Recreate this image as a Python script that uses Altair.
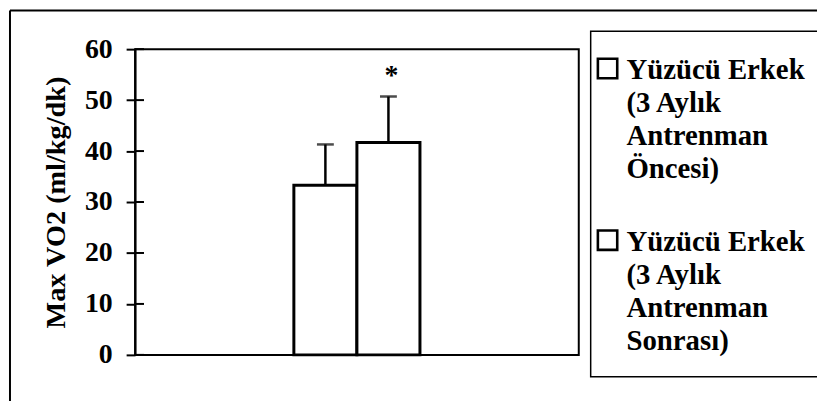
import altair as alt
import pandas as pd

# ---- data ----
series = [
    "Yüzücü Erkek|(3 Aylık|Antrenman|Öncesi)",
    "Yüzücü Erkek|(3 Aylık|Antrenman|Sonrası)",
]
means = [33.3, 41.7]
sds = [8.0, 9.0]
signif = ["", "*"]
y_ticks = [0, 10, 20, 30, 40, 50, 60]
legend_rows = [0, 1]

df = pd.DataFrame({
    "group": ["Max VO2", "Max VO2"],
    "series": series,
    "mean": means,
    "sd": sds,
    "mark": signif,
})
df["top"] = df["mean"] + df["sd"]
ticks_df = pd.DataFrame({"v": y_ticks})
frame_df = pd.DataFrame({"a": [0]})
legend_df = pd.DataFrame({"series": series, "row": legend_rows})

FONT = "Liberation Serif, Times New Roman, serif"

x_enc = alt.X("group:N", axis=None,
              scale=alt.Scale(paddingInner=0, paddingOuter=1))
xoff = alt.XOffset("series:N", sort=series,
                   scale=alt.Scale(paddingInner=0, paddingOuter=0.173))
y_scale = alt.Scale(domain=[0, 60], nice=False)

base = alt.Chart(df)

bars = base.mark_bar(stroke="black", strokeWidth=3).encode(
    x=x_enc,
    xOffset=xoff,
    y=alt.Y("mean:Q", scale=y_scale,
            axis=alt.Axis(values=y_ticks, title="Max VO2 (ml/kg/dk)", grid=False)),
    color=alt.Color("series:N", sort=series,
                    scale=alt.Scale(domain=series, range=["white", "white"]),
                    legend=None),
)

err = base.mark_rule(color="black", strokeWidth=2.5).encode(
    x=x_enc, xOffset=xoff,
    y=alt.Y("mean:Q", scale=y_scale), y2="top:Q",
)

caps = base.mark_tick(color="black", thickness=2.5, size=17, orient="horizontal").encode(
    x=x_enc, xOffset=xoff,
    y=alt.Y("top:Q", scale=y_scale),
)

star = base.mark_text(font=FONT, fontSize=28, fontWeight="bold", color="black",
                      baseline="middle", dy=-21, dx=3).encode(
    x=x_enc, xOffset=xoff,
    y=alt.Y("top:Q", scale=y_scale),
    text="mark:N",
)

inner_ticks = alt.Chart(ticks_df).mark_rule(color="black", strokeWidth=2).encode(
    y=alt.Y("v:Q", scale=y_scale), x=alt.value(0), x2=alt.value(9),
)

frame_left = alt.Chart(frame_df).mark_rule(color="black", strokeWidth=2).encode(
    x=alt.value(-126), y=alt.value(-39), y2=alt.value(400),
)
frame_top = alt.Chart(frame_df).mark_rule(color="black", strokeWidth=2).encode(
    y=alt.value(-39), x=alt.value(-126), x2=alt.value(700),
)

main = alt.layer(frame_left, frame_top, bars, err, caps, star, inner_ticks)

# ---- legend panel (drawn as marks) ----
leg_y = alt.Y("row:Q", scale=alt.Scale(domain=[0, 1], range=[19.5, 192.5]), axis=None)

leg_box = alt.Chart(frame_df).mark_rect(fill="white", stroke="black", strokeWidth=1.5).encode(
    x=alt.value(459), x2=alt.value(720), y=alt.value(-18), y2=alt.value(330),
)
leg_sym = alt.Chart(legend_df).mark_square(size=380, fill="white", stroke="black",
                                           strokeWidth=2.6, opacity=1).encode(
    x=alt.value(476), y=leg_y,
)
leg_txt = alt.Chart(legend_df).mark_text(
    font=FONT, fontSize=29, fontWeight="bold", color="black",
    align="left", baseline="alphabetic", lineBreak="|", lineHeight=33.3, dy=10.5,
).encode(
    x=alt.value(495), y=leg_y, text="series:N",
)
legend = alt.layer(leg_box, leg_sym, leg_txt)

chart = alt.layer(main, legend).resolve_scale(y="independent").properties(
    width=447, height=308,
    autosize=alt.AutoSizeParams(type="none"),
    padding={"left": 128, "top": 40, "right": 240, "bottom": 45},
    background="white",
).configure_view(
    stroke="black", strokeWidth=2,
).configure_axis(
    labelFont=FONT, labelFontSize=28, labelFontWeight="bold", labelColor="black",
    titleFont=FONT, titleFontSize=28.5, titleFontWeight="bold", titleColor="black",
    tickColor="black", tickSize=9, tickWidth=2,
    domainColor="black", domainWidth=2,
    labelPadding=14, titlePadding=14,
)

chart.save("out.html", embed_options={"renderer": "svg", "actions": False})
